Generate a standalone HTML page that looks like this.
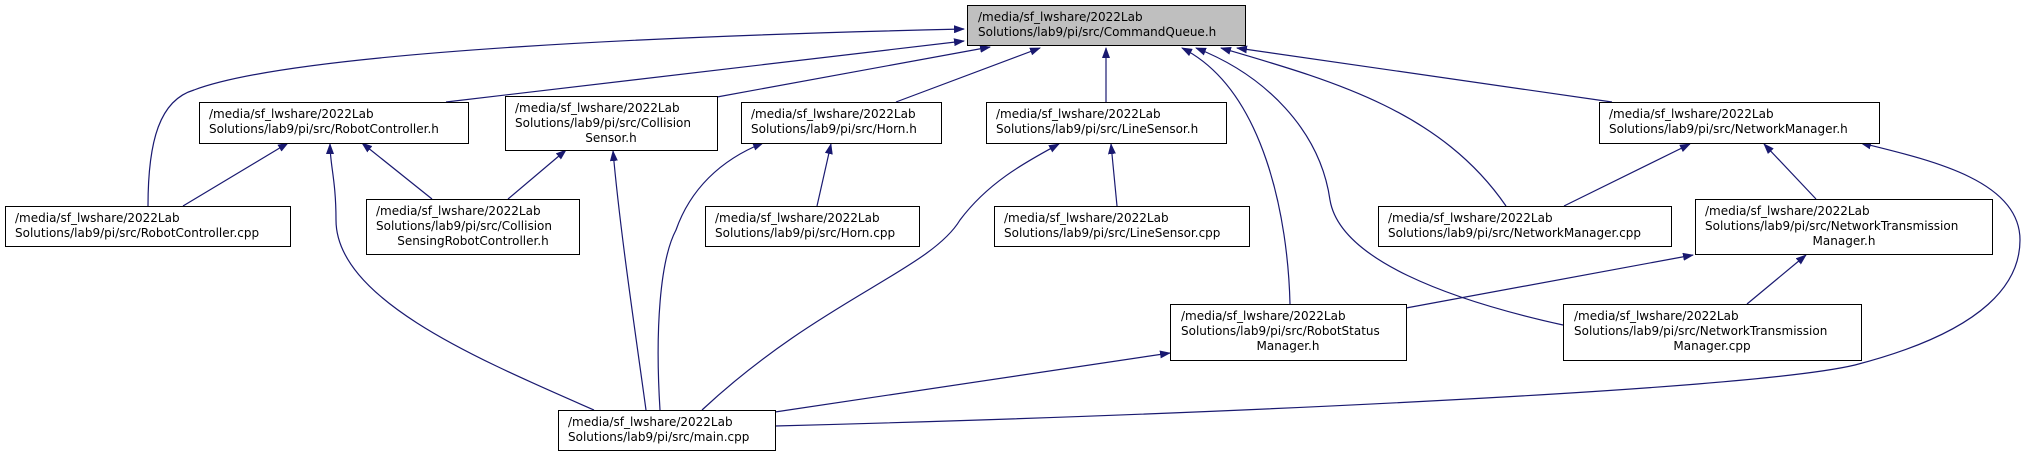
<!DOCTYPE html>
<html><head><meta charset="utf-8"><style>
html,body{margin:0;padding:0;background:#fff;}
svg{display:block;}
text{font-family:"DejaVu Sans","Liberation Sans",sans-serif;font-size:12px;fill:#000;}
.b{fill:#fff;stroke:#000;stroke-width:1;}
.e{fill:none;stroke:#191970;stroke-width:1.2;}
</style></head><body>
<svg width="2028" height="453" viewBox="0 0 2028 453" xmlns="http://www.w3.org/2000/svg">
<defs>
<marker id="a" markerWidth="11" markerHeight="8" refX="10" refY="4" orient="auto" markerUnits="userSpaceOnUse">
<path d="M0,0 L11,4 L0,8 z" fill="#191970"/>
</marker>
</defs>
<g marker-end="url(#a)">
<path class="e" d="M148,206 C148,140 160,100 194,90 C300,50 700,35 964,29"/>
<path class="e" d="M446,102 L964,41"/>
<path class="e" d="M717,97 L990,47"/>
<path class="e" d="M896,102 L1040,48"/>
<path class="e" d="M1106,102 L1106,48"/>
<path class="e" d="M1290,304 C1288,220 1265,90 1182,48"/>
<path class="e" d="M1563,325 C1450,300 1340,260 1330,200 C1320,130 1265,75 1196,48"/>
<path class="e" d="M1506,206 C1440,110 1330,80 1221,48"/>
<path class="e" d="M1612,102 L1237,48"/>
<path class="e" d="M183,206 L288,143"/>
<path class="e" d="M432,199 L362,143"/>
<path class="e" d="M594,410 C480,360 336,300 336,220 C336,180 330,165 330,144"/>
<path class="e" d="M508,199 L566,150"/>
<path class="e" d="M646,410 C635,330 620,230 613,151"/>
<path class="e" d="M660,410 C655,330 660,260 676,230 C690,190 720,160 763,143"/>
<path class="e" d="M817,206 L831,144"/>
<path class="e" d="M702,410 C820,300 930,270 960,220 C990,180 1030,160 1059,144"/>
<path class="e" d="M1117,206 L1111,144"/>
<path class="e" d="M775,412 L1170,353"/>
<path class="e" d="M775,426 C1200,415 1750,390 1855,365 C1990,330 2020,280 2020,240 C2020,180 1930,160 1861,143"/>
<path class="e" d="M1564,206 L1690,144"/>
<path class="e" d="M1816,199 L1764,144"/>
<path class="e" d="M1406,308 L1693,255"/>
<path class="e" d="M1747,304 L1806,255"/>
</g>

<rect x="967.5" y="5.5" width="278" height="40" fill="#bfbfbf" stroke="#000"/>
<text x="978" y="21">/media/sf_lwshare/2022Lab</text>
<text x="978" y="36">Solutions/lab9/pi/src/CommandQueue.h</text>

<rect class="b" x="199.5" y="102.5" width="269" height="41"/>
<text x="209" y="118">/media/sf_lwshare/2022Lab</text>
<text x="209" y="133">Solutions/lab9/pi/src/RobotController.h</text>

<rect class="b" x="505.5" y="96.5" width="212" height="54"/>
<text x="515" y="112">/media/sf_lwshare/2022Lab</text>
<text x="515" y="127">Solutions/lab9/pi/src/Collision</text>
<text x="611" y="142" text-anchor="middle">Sensor.h</text>

<rect class="b" x="741.5" y="102.5" width="200" height="41"/>
<text x="751" y="118">/media/sf_lwshare/2022Lab</text>
<text x="751" y="133">Solutions/lab9/pi/src/Horn.h</text>

<rect class="b" x="986.5" y="102.5" width="240" height="41"/>
<text x="996" y="118">/media/sf_lwshare/2022Lab</text>
<text x="996" y="133">Solutions/lab9/pi/src/LineSensor.h</text>

<rect class="b" x="1599.5" y="102.5" width="280" height="41"/>
<text x="1609" y="118">/media/sf_lwshare/2022Lab</text>
<text x="1609" y="133">Solutions/lab9/pi/src/NetworkManager.h</text>

<rect class="b" x="5.5" y="206.5" width="285" height="40"/>
<text x="15" y="222">/media/sf_lwshare/2022Lab</text>
<text x="15" y="237">Solutions/lab9/pi/src/RobotController.cpp</text>

<rect class="b" x="366.5" y="199.5" width="213" height="55"/>
<text x="376" y="215">/media/sf_lwshare/2022Lab</text>
<text x="376" y="230">Solutions/lab9/pi/src/Collision</text>
<text x="473" y="245" text-anchor="middle">SensingRobotController.h</text>

<rect class="b" x="705.5" y="206.5" width="214" height="40"/>
<text x="715" y="222">/media/sf_lwshare/2022Lab</text>
<text x="715" y="237">Solutions/lab9/pi/src/Horn.cpp</text>

<rect class="b" x="994.5" y="206.5" width="255" height="40"/>
<text x="1004" y="222">/media/sf_lwshare/2022Lab</text>
<text x="1004" y="237">Solutions/lab9/pi/src/LineSensor.cpp</text>

<rect class="b" x="1378.5" y="206.5" width="293" height="40"/>
<text x="1388" y="222">/media/sf_lwshare/2022Lab</text>
<text x="1388" y="237">Solutions/lab9/pi/src/NetworkManager.cpp</text>

<rect class="b" x="1695.5" y="199.5" width="297" height="55"/>
<text x="1705" y="215">/media/sf_lwshare/2022Lab</text>
<text x="1705" y="230">Solutions/lab9/pi/src/NetworkTransmission</text>
<text x="1844" y="245" text-anchor="middle">Manager.h</text>

<rect class="b" x="1170.5" y="304.5" width="236" height="56"/>
<text x="1181" y="320">/media/sf_lwshare/2022Lab</text>
<text x="1181" y="335">Solutions/lab9/pi/src/RobotStatus</text>
<text x="1288" y="350" text-anchor="middle">Manager.h</text>

<rect class="b" x="1563.5" y="304.5" width="298" height="56"/>
<text x="1574" y="320">/media/sf_lwshare/2022Lab</text>
<text x="1574" y="335">Solutions/lab9/pi/src/NetworkTransmission</text>
<text x="1712" y="350" text-anchor="middle">Manager.cpp</text>

<rect class="b" x="558.5" y="410.5" width="217" height="40"/>
<text x="568" y="426">/media/sf_lwshare/2022Lab</text>
<text x="568" y="441">Solutions/lab9/pi/src/main.cpp</text>
</svg>
</body></html>
